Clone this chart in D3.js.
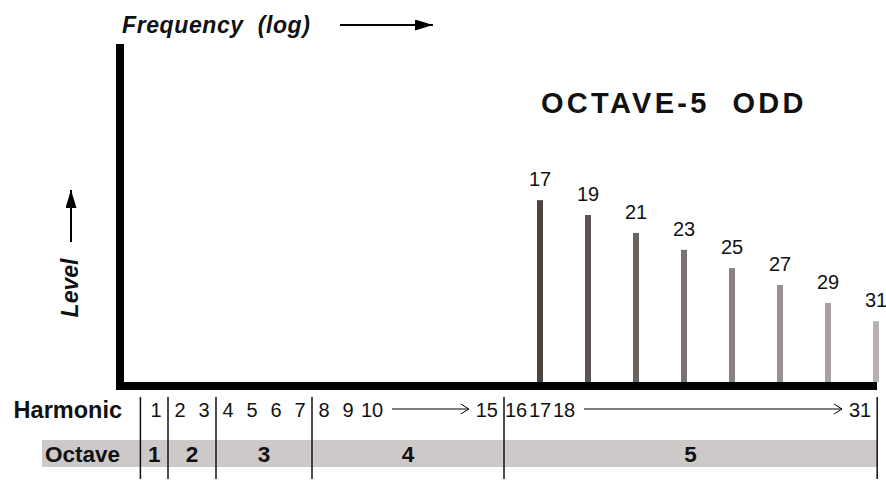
<!DOCTYPE html>
<html>
<head>
<meta charset="utf-8">
<script src="https://cdn.jsdelivr.net/npm/d3@7"></script>
<style>
  html, body { margin: 0; padding: 0; background: #fff; }
  svg { display: block; font-family: "Liberation Sans", Arial, Helvetica, sans-serif; }
</style>
</head>
<body>
<svg id="chart" width="886" height="482"></svg>
<script>
// ---- data ----
const harmonics = [17, 19, 21, 23, 25, 27, 29, 31];
const levels = [53.8, 49.4, 44.1, 39.1, 33.7, 28.7, 23.4, 18.0];
const harmonicTicks = ["1", "2", "3", "4", "5", "6", "7", "8", "9", "10", "15", "16", "17", "18", "31"];
const harmonicTickValues = [1, 2, 3, 4, 5, 6, 7, 8, 9, 10, 15, 16, 17, 18, 31];
const harmonicArrows = [[10, 15], [18, 31]];
const octaveNames = ["1", "2", "3", "4", "5"];
const octaveBounds = [0.35, 1.5, 3.5, 7.5, 15.5, 31.05];
const title = "OCTAVE-5  ODD";

// ---- scales ----
const svg = d3.select("#chart");
const x = d3.scaleLinear().domain([17, 31]).range([540, 876]);
const y = d3.scaleLinear().domain([0, 100]).range([382, 44]);
const shade = d3.scaleLinear().domain([0, harmonics.length - 1]).range(["#4b4542", "#b6b1af"]);

const defs = svg.append("defs");
defs.append("marker").attr("id", "solid").attr("viewBox", "0 0 18 11")
  .attr("refX", 18).attr("refY", 5.5).attr("markerWidth", 18).attr("markerHeight", 11)
  .attr("markerUnits", "userSpaceOnUse").attr("orient", "auto")
  .append("path").attr("d", "M0,0 L18,5.5 L0,11 Z").attr("fill", "#000");
defs.append("marker").attr("id", "open").attr("viewBox", "0 0 10 12")
  .attr("refX", 9).attr("refY", 6).attr("markerWidth", 10).attr("markerHeight", 12)
  .attr("markerUnits", "userSpaceOnUse").attr("orient", "auto")
  .append("path").attr("d", "M1,1 L9,6 L1,11").attr("fill", "none").attr("stroke", "#000").attr("stroke-width", 1);

// ---- bars ----
svg.append("g").selectAll("rect").data(harmonics).join("rect")
  .attr("x", d => x(d) - 3)
  .attr("width", 6)
  .attr("y", (d, i) => y(levels[i]))
  .attr("height", (d, i) => y(0) - y(levels[i]))
  .attr("fill", (d, i) => shade(i));

svg.append("g").selectAll("text").data(harmonics).join("text")
  .attr("x", d => x(d))
  .attr("y", (d, i) => y(levels[i]) - 14)
  .attr("text-anchor", "middle")
  .attr("font-size", 20)
  .attr("fill", "#111")
  .text(d => d);

// ---- axes (thick L) ----
const x0 = 120, xEnd = x(31) + 1;
svg.append("line").attr("x1", x0).attr("x2", x0).attr("y1", 44).attr("y2", y(0) + 8)
  .attr("stroke", "#000").attr("stroke-width", 8);
svg.append("line").attr("x1", x0 - 4).attr("x2", xEnd).attr("y1", y(0) + 4).attr("y2", y(0) + 4)
  .attr("stroke", "#000").attr("stroke-width", 8);

// ---- titles ----
svg.append("text").attr("x", 541).attr("y", 113)
  .attr("font-size", 29).attr("font-weight", "bold").attr("letter-spacing", 3.3)
  .attr("fill", "#111").style("white-space", "pre").text(title);

svg.append("text").attr("x", 122).attr("y", 33)
  .attr("font-size", 23).attr("font-weight", "bold").attr("font-style", "italic")
  .attr("fill", "#111").style("white-space", "pre").attr("letter-spacing", 0.6).text("Frequency  (log)");
svg.append("line").attr("x1", 340).attr("x2", 433).attr("y1", 25).attr("y2", 25)
  .attr("stroke", "#000").attr("stroke-width", 2).attr("marker-end", "url(#solid)");

svg.append("text").attr("transform", "translate(78,288) rotate(-90)")
  .attr("text-anchor", "middle")
  .attr("font-size", 23).attr("font-weight", "bold").attr("font-style", "italic")
  .attr("fill", "#111").text("Level");
svg.append("line").attr("x1", 71).attr("x2", 71).attr("y1", 242).attr("y2", 190)
  .attr("stroke", "#000").attr("stroke-width", 2).attr("marker-end", "url(#solid)");

// ---- octave band ----
svg.append("rect").attr("x", 42).attr("y", 440)
  .attr("width", x(octaveBounds[octaveBounds.length - 1]) - 42).attr("height", 27)
  .attr("fill", "#cdc9c8");

svg.append("text").attr("x", 122).attr("y", 418).attr("text-anchor", "end")
  .attr("font-size", 23.5).attr("font-weight", "bold").attr("fill", "#111").text("Harmonic");
svg.append("text").attr("x", 120).attr("y", 462).attr("text-anchor", "end")
  .attr("font-size", 22.5).attr("font-weight", "bold").attr("fill", "#111").text("Octave");

svg.append("g").selectAll("line").data(octaveBounds).join("line")
  .attr("x1", d => x(d)).attr("x2", d => x(d))
  .attr("y1", 397).attr("y2", 479)
  .attr("stroke", "#111").attr("stroke-width", 1.5);

svg.append("g").selectAll("text").data(octaveNames).join("text")
  .attr("x", (d, i) => (x(octaveBounds[i]) + x(octaveBounds[i + 1])) / 2)
  .attr("y", 462).attr("text-anchor", "middle")
  .attr("font-size", 22.5).attr("font-weight", "bold").attr("fill", "#111")
  .text(d => d);

// harmonic tick labels
const rangeEnds = new Set(harmonicArrows.map(a => a[1]));
svg.append("g").selectAll("text").data(harmonicTicks).join("text")
  .attr("x", (d, i) => {
    const h = harmonicTickValues[i];
    if (rangeEnds.has(h)) {
      const nextBound = octaveBounds.find(b => b > h);
      return x(nextBound) - 6;
    }
    return x(h);
  })
  .attr("text-anchor", (d, i) => rangeEnds.has(harmonicTickValues[i]) ? "end" : "middle")
  .attr("y", 417).attr("font-size", 20).attr("fill", "#111")
  .text(d => d);

svg.append("g").selectAll("line").data(harmonicArrows).join("line")
  .attr("x1", d => x(d[0]) + 20)
  .attr("x2", d => {
    const nextBound = octaveBounds.find(b => b > d[1]);
    return x(nextBound) - 6 - (String(d[1]).length * 11.1) - 7;
  })
  .attr("y1", 409).attr("y2", 409)
  .attr("stroke", "#000").attr("stroke-width", 1)
  .attr("marker-end", "url(#open)");
</script>
</body>
</html>
